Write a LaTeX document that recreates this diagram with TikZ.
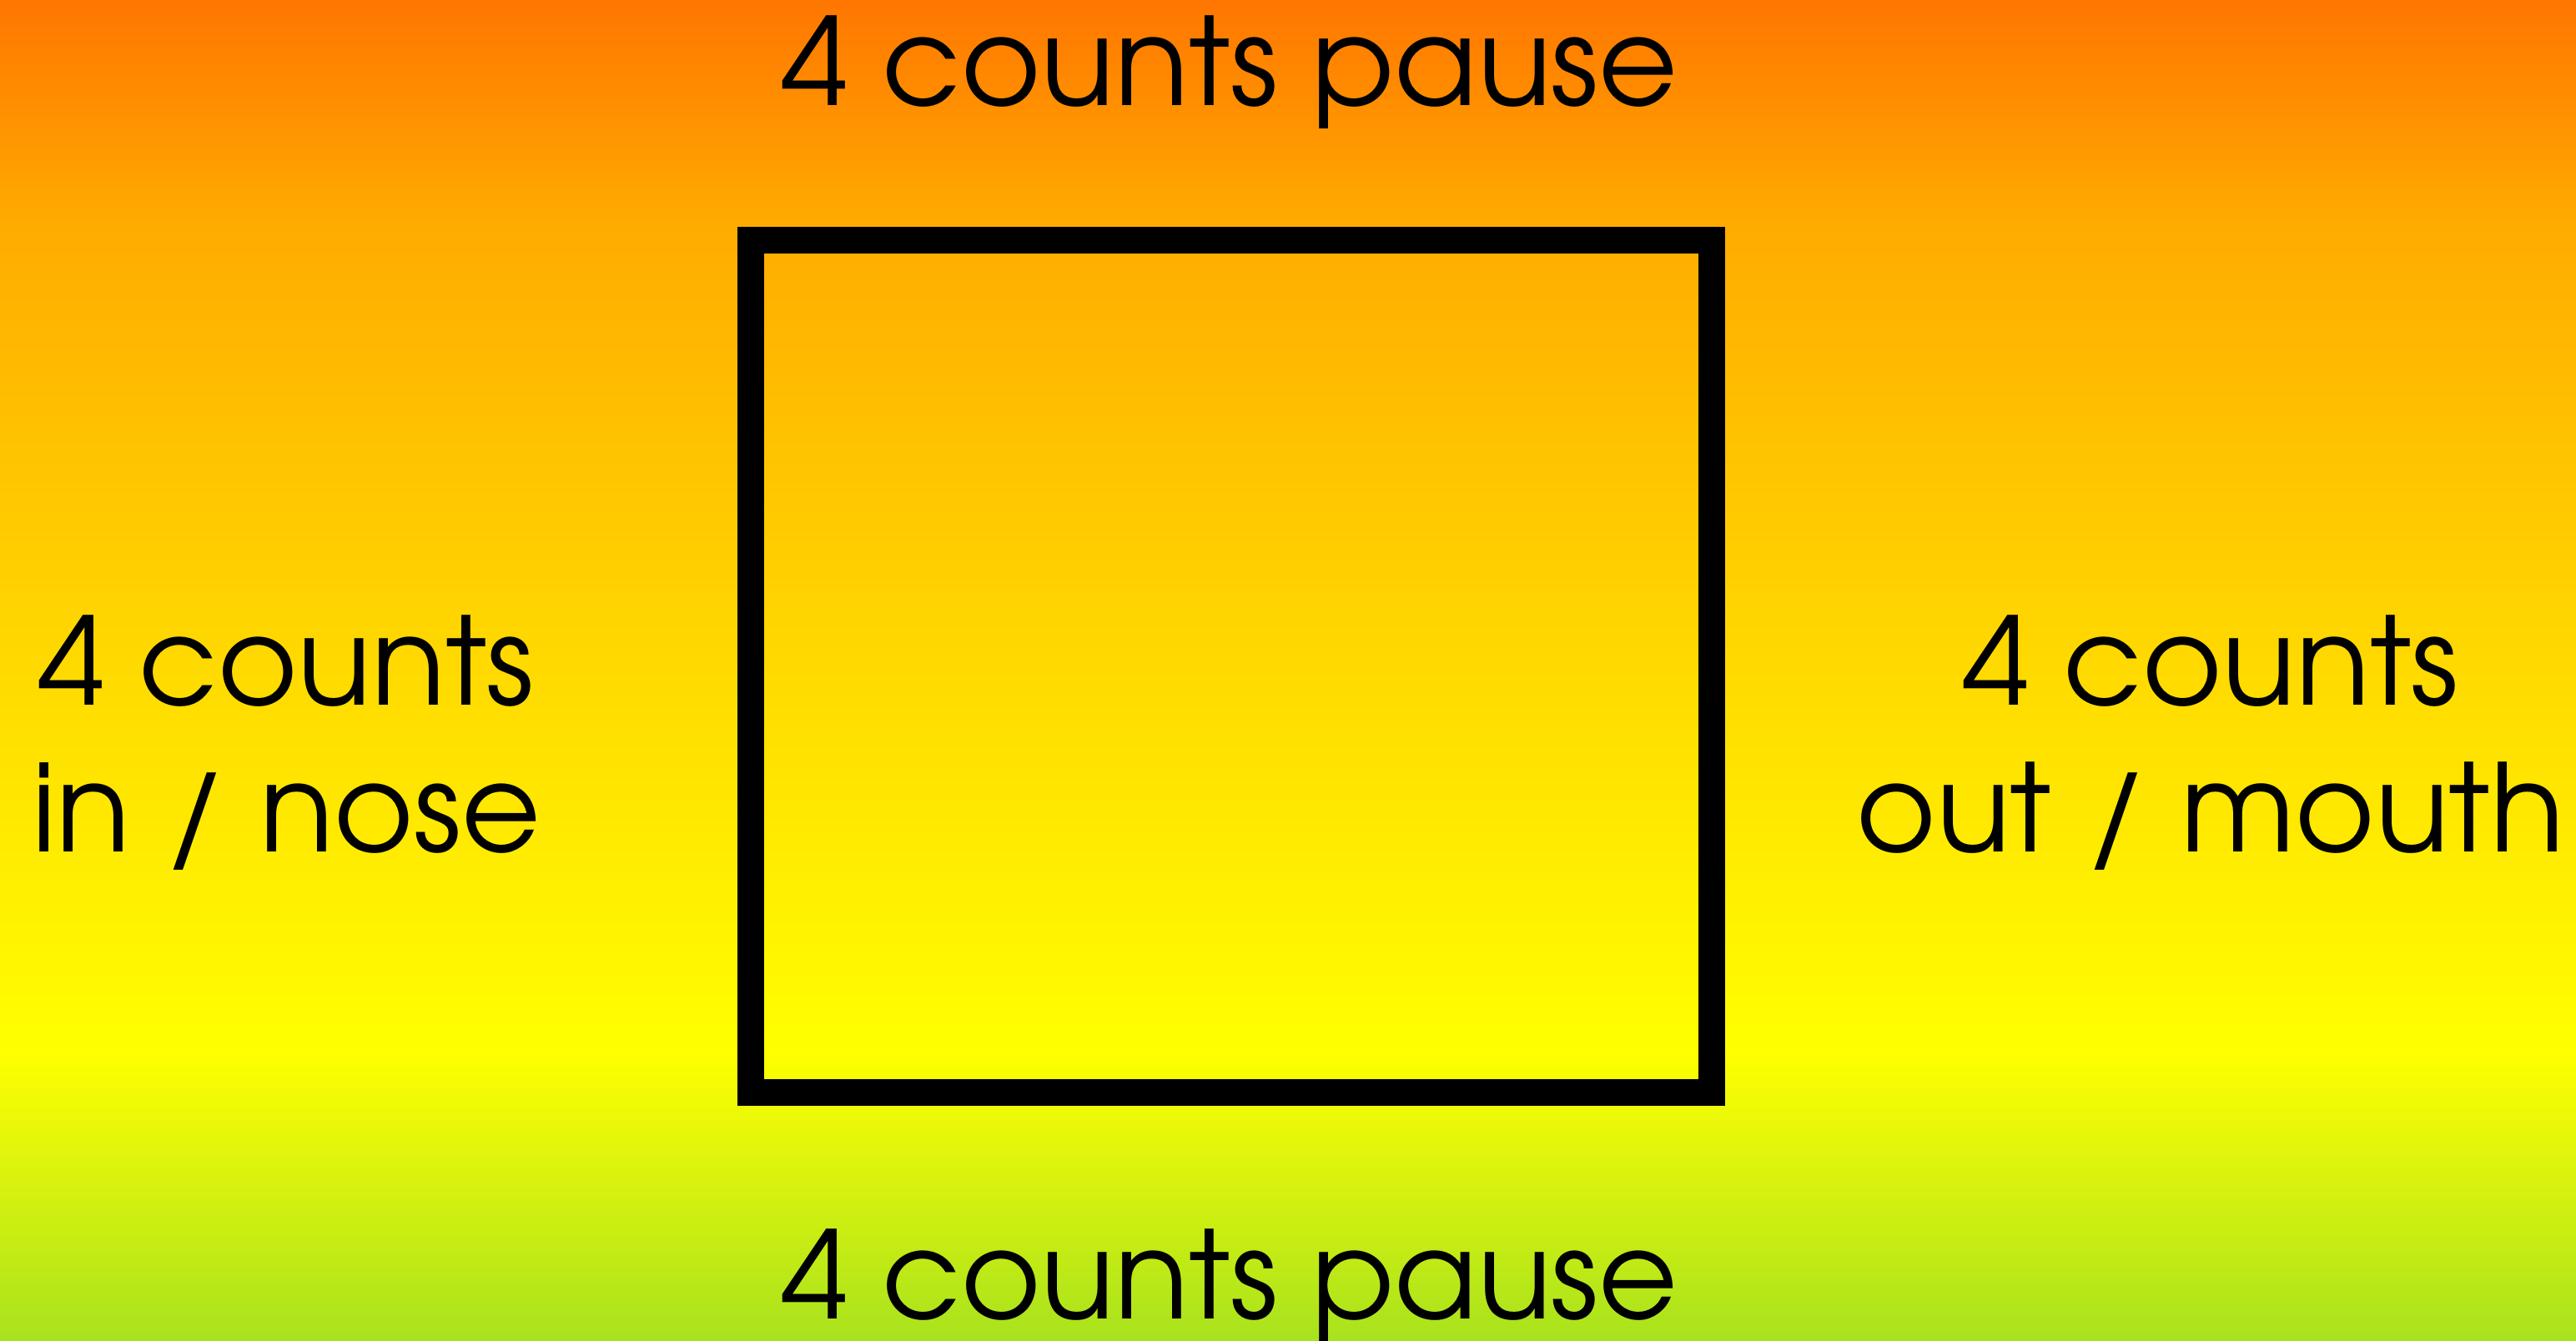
\documentclass[tikz,border=0pt]{standalone}
\usepackage{fontspec}
\setmainfont{TeX Gyre Adventor}
\definecolor{cbot}{RGB}{168,226,30}
\definecolor{cyel}{RGB}{255,255,0}
\definecolor{cmid}{RGB}{255,218,0}
\definecolor{cupp}{RGB}{255,172,0}
\definecolor{ctop}{RGB}{255,118,0}
\pgfdeclareverticalshading{bgshade}{100bp}{color(0bp)=(cbot); color(25bp)=(cbot); color(35.8bp)=(cyel); color(50bp)=(cmid); color(66.5bp)=(cupp); color(75bp)=(ctop); color(100bp)=(ctop)}
\tikzset{
  label text/.style={font=\fontsize{41.5}{50.1}\selectfont, inner sep=0pt, text=black},
  breath box/.style={draw=black, line width=0.32cm, line join=miter}
}
\begin{document}
\begin{tikzpicture}
\path[shading=bgshade] (0,0) rectangle (30.88,16.08);
\useasboundingbox (0,0) rectangle (30.88,16.08);
\draw[breath box] (9.00,13.20) coordinate (sqtl) rectangle (20.52,2.98) coordinate (sqbr);
\node[label text, anchor=base] (top) at (14.74,14.81) {4 counts pause};
\node[label text, anchor=base] (bottom) at (14.74,0.26) {4 counts pause};
\node[label text, anchor=base, align=center] (left) at (3.43,5.86) {4 counts\\in / nose};
\node[label text, anchor=base, align=center] (right) at (26.50,5.86) {4 counts\\out / mouth};
\end{tikzpicture}
\end{document}
